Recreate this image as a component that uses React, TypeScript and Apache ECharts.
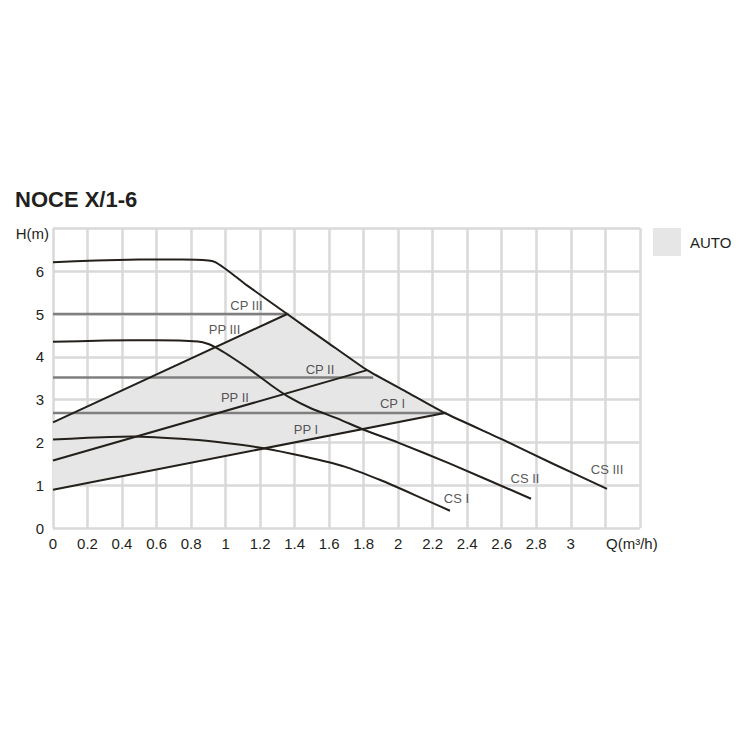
import React, { useEffect, useRef } from "react";
import * as echarts from "echarts";

// ---- data (Q in m³/h, H in m) ----
const csIII: number[][] = [
  [0, 6.21], [0.25, 6.25], [0.5, 6.27], [0.75, 6.27], [0.9, 6.25], [0.94, 6.21],
  [0.99, 6.08], [1.05, 5.9], [1.12, 5.68], [1.357, 5.0], [1.6, 4.31], [1.82, 3.69],
  [2.05, 3.18], [2.27, 2.69], [2.6, 2.08], [2.9, 1.5], [3.21, 0.92],
];
const csII: number[][] = [
  [0, 4.35], [0.3, 4.38], [0.6, 4.39], [0.84, 4.36], [0.9, 4.3], [0.96, 4.18],
  [1.04, 3.98], [1.15, 3.68], [1.26, 3.35], [1.36, 3.08], [1.5, 2.79], [1.65, 2.56],
  [1.8, 2.3], [2.0, 2.0], [2.3, 1.51], [2.77, 0.69],
];
const csI: number[][] = [
  [0, 2.07], [0.2, 2.11], [0.46, 2.14], [0.8, 2.07], [1.0, 1.99], [1.22, 1.87],
  [1.45, 1.68], [1.69, 1.44], [1.9, 1.12], [2.1, 0.77], [2.3, 0.41],
];
const ppIII: number[][] = [[0, 2.47], [1.357, 5.0]];
const ppII: number[][] = [[0, 1.58], [1.82, 3.69]];
const ppI: number[][] = [[0, 0.9], [2.27, 2.69]];
const cpIII: number[][] = [[0, 5.0], [1.365, 5.0]];
const cpII: number[][] = [[0, 3.52], [1.855, 3.52]];
const cpI: number[][] = [[0, 2.69], [2.28, 2.69]];
const autoRegion: number[][] = [
  [0, 0.9], [2.27, 2.69], [1.82, 3.69], [1.357, 5.0], [0, 2.47],
];
const curveLabels: (number | string)[][] = [
  [1.121, 5.19, "CP III"],
  [0.994, 4.64, "PP III"],
  [1.547, 3.7, "CP II"],
  [1.054, 3.06, "PP II"],
  [1.466, 2.3, "PP I"],
  [1.967, 2.91, "CP I"],
  [2.338, 0.69, "CS I"],
  [2.735, 1.16, "CS II"],
  [3.21, 1.37, "CS III"],
];
const qMax = 3.4;
const qStep = 0.2;
const qLabelMax = 3.0;
const hMax = 7;
const hLabelMax = 6;

const FONT = "'Liberation Sans', Arial, sans-serif";
const INK = "#231f20";
const CURVE = "#231f1a";
const CPGRAY = "#7f7f7f";

export default function App() {
  const ref = useRef<HTMLDivElement>(null);
  useEffect(() => {
    if (!ref.current) return;
    const chart = echarts.init(ref.current, undefined, { renderer: "svg" });
    const lineSeries = (name: string, data: number[][], color: string, width: number, smooth: number | boolean) => ({
      name,
      type: "line",
      data,
      smooth,
      symbol: "none",
      silent: true,
      lineStyle: { color, width },
      z: 3,
    });
    chart.setOption({
      animation: false,
      backgroundColor: "#ffffff",
      title: {
        text: "NOCE X/1-6",
        left: 15,
        top: 188,
        padding: 0,
        textStyle: { fontFamily: FONT, fontWeight: "bold", fontSize: 22, color: INK },
      },
      legend: {
        left: 653,
        top: 228,
        padding: 0,
        icon: "rect",
        itemWidth: 28,
        itemHeight: 28,
        data: [{ name: "AUTO", itemStyle: { color: "#e6e6e6" } }],
        textStyle: { fontFamily: FONT, fontSize: 15, color: INK, padding: [0, 0, 0, 4] },
        selectedMode: false,
      },
      grid: { left: 53, top: 228.3, right: 110.2, bottom: 221.7, containLabel: false },
      xAxis: {
        type: "value",
        min: 0,
        max: qMax,
        interval: qStep,
        axisLine: { show: false },
        axisTick: { show: false },
        splitLine: { show: true, lineStyle: { color: "#d9d9d9", width: 2.5 } },
        axisLabel: {
          margin: 8,
          fontFamily: FONT,
          fontSize: 15,
          color: INK,
          showMaxLabel: true,
          formatter: (v: number) => (v <= qLabelMax + 1e-6 ? String(Math.round(v * 10) / 10) : ""),
        },
      },
      yAxis: {
        type: "value",
        min: 0,
        max: hMax,
        interval: 1,
        axisLine: { show: false },
        axisTick: { show: false },
        splitLine: { show: true, lineStyle: { color: "#d9d9d9", width: 2.5 } },
        axisLabel: {
          margin: 9,
          fontFamily: FONT,
          fontSize: 15,
          color: INK,
          formatter: (v: number) => (v <= hLabelMax + 1e-6 ? String(v) : ""),
        },
      },
      graphic: [
        {
          type: "text",
          x: 49,
          y: 233,
          style: {
            text: "H(m)",
            font: `15px ${FONT}`,
            fill: INK,
            align: "right",
            verticalAlign: "middle",
            textAlign: "right",
            textVerticalAlign: "middle",
          },
        },
        {
          type: "text",
          x: 606,
          y: 543,
          style: {
            text: "Q(m³/h)",
            font: `15px ${FONT}`,
            fill: INK,
            align: "left",
            verticalAlign: "middle",
            textAlign: "left",
            textVerticalAlign: "middle",
          },
        },
      ],
      series: [
        {
          name: "AUTO",
          type: "custom",
          data: autoRegion,
          encode: { x: 0, y: 1 },
          itemStyle: { color: "#e6e6e6" },
          silent: true,
          z: 1,
          renderItem: (params: any, api: any) => {
            if (params.dataIndex !== 0) return { type: "group", children: [] };
            const pts = autoRegion.map((p) => api.coord(p));
            return {
              type: "polygon",
              shape: { points: pts },
              style: { fill: "#e6e6e6", stroke: "none" },
            };
          },
        },
        lineSeries("CP III", cpIII, CPGRAY, 2.5, false),
        lineSeries("CP II", cpII, CPGRAY, 2.5, false),
        lineSeries("CP I", cpI, CPGRAY, 2.5, false),
        lineSeries("PP III", ppIII, CURVE, 2, false),
        lineSeries("PP II", ppII, CURVE, 2, false),
        lineSeries("PP I", ppI, CURVE, 2, false),
        lineSeries("CS III", csIII, CURVE, 2, 0.15),
        lineSeries("CS II", csII, CURVE, 2, 0.15),
        lineSeries("CS I", csI, CURVE, 2, 0.15),
        {
          name: "labels",
          type: "scatter",
          data: curveLabels,
          symbolSize: 0,
          silent: true,
          z: 5,
          label: {
            show: true,
            position: "inside",
            formatter: (p: any) => p.data[2],
            fontFamily: FONT,
            fontSize: 13,
            color: "#2b2b2b",
          },
        },
      ],
    });
    return () => chart.dispose();
  }, []);
  return (
    <div
      ref={ref}
      style={{ position: "fixed", left: 0, top: 0, width: 750, height: 750, background: "#fff" }}
    />
  );
}
